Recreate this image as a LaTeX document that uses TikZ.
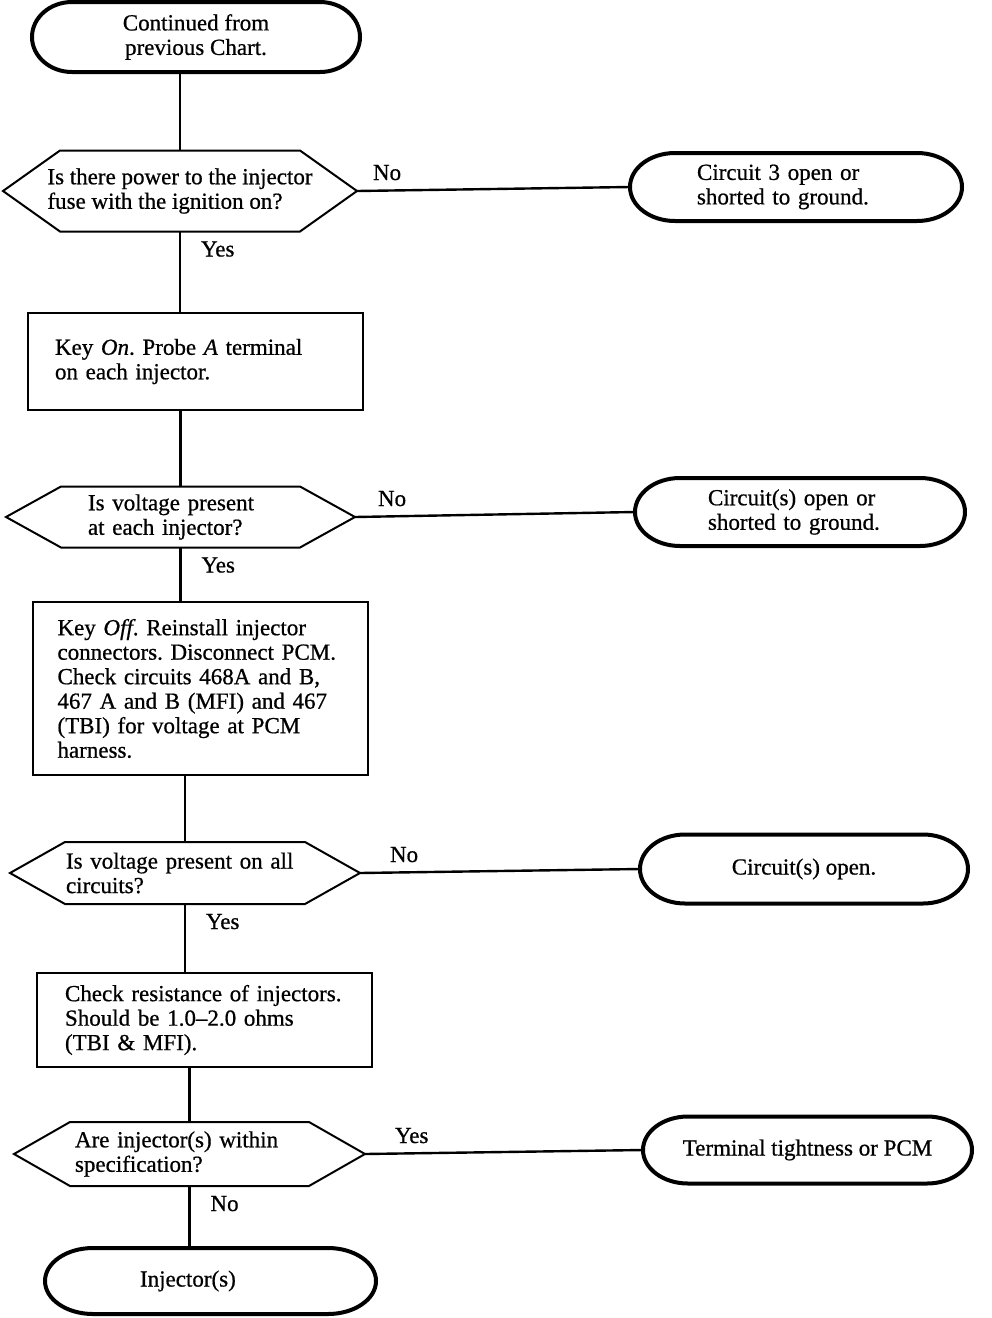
\documentclass[tikz,border=0pt]{standalone}
\usepackage{fontspec}
\setmainfont{Liberation Serif}[FakeBold=0.7]
\usetikzlibrary{calc}
\newcommand\hexdraw[2]{%
  \draw[hexline] (#1.west) -- ([xshift=#2]#1.north west) -- ([xshift=-#2]#1.north east) -- (#1.east) -- ([xshift=-#2]#1.south east) -- ([xshift=#2]#1.south west) -- cycle;}
\newcommand\ovaldraw[3]{%
  \draw[ovalline] ([xshift=#2]#1.north west) -- ([xshift=-#2]#1.north east)
    arc[start angle=90, end angle=-90, x radius=#2, y radius=#3]
    -- ([xshift=#2]#1.south west)
    arc[start angle=270, end angle=90, x radius=#2, y radius=#3] -- cycle;}
\begin{document}
\frenchspacing
\begin{tikzpicture}[x=1pt,y=-1pt,
  every node/.style={font=\fontsize{23}{24.5}\selectfont\frenchspacing, inner sep=0pt, outer sep=0pt},
  dec/.style={align=left},
  proc/.style={draw, line width=2.2pt, align=left},
  term/.style={align=center},
  conn/.style={line width=2.4pt},
  hexline/.style={line width=2pt, line join=miter},
  ovalline/.style={line width=4pt},
  yeslab/.style={at start, anchor=base west, xshift=21pt, yshift=-25pt},
  sidelab/.style={at start, anchor=base west, yshift=11pt}]
\fill[white] (0,0) rectangle (992,1318);
\useasboundingbox (0,0) rectangle (992,1318);

% main column
\node[term, minimum width=328pt, minimum height=70pt] (start) at (196,37) {Continued from\\previous Chart.};
\node[dec, minimum width=354pt, minimum height=81pt] (d1) at (180,191) {Is there power to the injector\\fuse with the ignition on?};
\node[proc, text width=281pt, minimum width=335pt, minimum height=97pt] (b1) at (195.5,361.5) {Key \textit{On}. Probe \textit{A} terminal\\on each injector.};
\node[dec, text width=185pt, minimum width=349pt, minimum height=61pt] (d2) at (180.5,517) {Is voltage present\\at each injector?};
\node[proc, text width=286pt, minimum width=335pt, minimum height=173pt] (b2) at (200.5,688.5) {Key \textit{Off}. Reinstall injector\\connectors. Disconnect PCM.\\Check circuits 468A and B,\\467 A and B (MFI) and 467\\(TBI) for voltage at PCM\\harness.};
\node[dec, text width=238pt, minimum width=350pt, minimum height=62pt] (d3) at (185,873) {Is voltage present on all\\circuits?};
\node[proc, text width=279pt, minimum width=335pt, minimum height=94pt] (b3) at (204.5,1020) {Check resistance of injectors.\\Should be 1.0--2.0 ohms\\(TBI \& MFI).};
\node[dec, text width=229pt, minimum width=351pt, minimum height=64pt] (d4) at (189.5,1154) {Are injector(s) within\\specification?};
\node[term, text width=141pt, align=left, minimum width=331pt, minimum height=66pt] (end) at (210.5,1281) {Injector(s)};

% right column
\node[term, text width=198pt, align=left, minimum width=332pt, minimum height=68pt] (r1) at (796,187) {Circuit 3 open or\\shorted to ground.};
\node[term, text width=184pt, align=left, minimum width=330pt, minimum height=68pt] (r2) at (800,512) {Circuit(s) open or\\shorted to ground.};
\node[term, minimum width=328pt, minimum height=69pt] (r3) at (804,869) {Circuit(s) open.};
\node[term, minimum width=329pt, minimum height=67pt] (r4) at (807.5,1150) {Terminal tightness or PCM};

% outlines
\hexdraw{d1}{57pt}
\hexdraw{d2}{55pt}
\hexdraw{d3}{55pt}
\hexdraw{d4}{56pt}
\ovaldraw{start}{40pt}{35pt}
\ovaldraw{end}{48pt}{33pt}
\ovaldraw{r1}{45pt}{34pt}
\ovaldraw{r2}{45pt}{34pt}
\ovaldraw{r3}{45pt}{34.5pt}
\ovaldraw{r4}{45pt}{33.5pt}

% connectors
\draw[conn] (start.south -| d1.north) -- (d1.north);
\draw[conn] (d1.south) -- node[yeslab]{Yes} (d1.south |- b1.north);
\draw[conn] (b1.south -| d2.north) -- (d2.north);
\draw[conn] (d2.south) -- node[yeslab]{Yes} (d2.south |- b2.north);
\draw[conn] (b2.south -| d3.north) -- (d3.north);
\draw[conn] (d3.south) -- node[yeslab]{Yes} (d3.south |- b3.north);
\draw[conn] (b3.south -| d4.north) -- (d4.north);
\draw[conn] (d4.south) -- node[yeslab]{No} (d4.south |- end.north);

\draw[conn] (d1.east) -- node[sidelab, xshift=16pt]{No} (r1.west);
\draw[conn] (d2.east) -- node[sidelab, xshift=23pt]{No} (r2.west);
\draw[conn] (d3.east) -- node[sidelab, xshift=30pt]{No} (r3.west);
\draw[conn] (d4.east) -- node[sidelab, xshift=30pt]{Yes} (r4.west);
\end{tikzpicture}
\end{document}
